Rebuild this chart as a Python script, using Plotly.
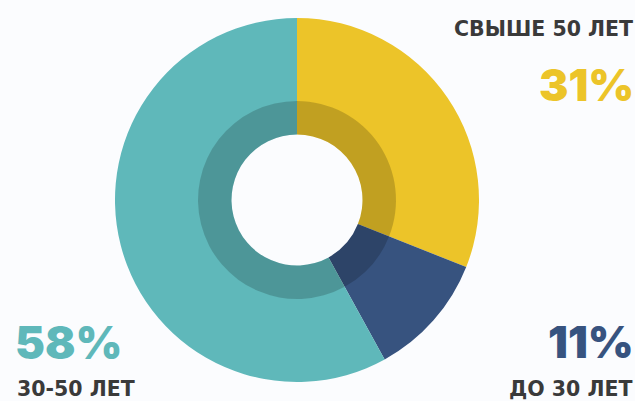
import plotly.graph_objects as go

labels = ["СВЫШЕ 50 ЛЕТ", "ДО 30 ЛЕТ", "30-50 ЛЕТ"]
values = [31, 11, 58]
pct_text = ["31%", "11%", "58%"]
colors = ["#ECC429", "#37537F", "#5FB8BA"]

W, H = 635, 401
cx, cy = 297, 200
r_out, r_mid, r_in = 182, 99, 65.5

def dom(r):
    return dict(x=[(cx - r) / W, (cx + r) / W], y=[(H - cy - r) / H, (H - cy + r) / H])

fig = go.Figure()
fig.add_trace(go.Pie(
    labels=labels, values=values, sort=False, direction="clockwise", rotation=0,
    hole=r_in / r_out, marker=dict(colors=colors, line=dict(width=0)),
    textinfo="none", hoverinfo="label+percent", domain=dom(r_out), showlegend=False,
))
fig.add_trace(go.Pie(
    labels=labels, values=values, sort=False, direction="clockwise", rotation=0,
    hole=r_in / r_mid, marker=dict(colors=["rgba(0,0,0,0.18)"] * 3, line=dict(width=0)),
    textinfo="none", hoverinfo="skip", domain=dom(r_mid), showlegend=False,
))

label_font = "DejaVu Sans"
pct_font = "Inter"
dark = "#3A3A3A"
ann = [
    dict(text=labels[0], x=635, y=29, xanchor="right", size=20.5, color=dark, w=700, f=label_font),
    dict(text=pct_text[0], x=636, y=85, xanchor="right", size=44, color=colors[0], w=900, f=pct_font),
    dict(text=pct_text[1], x=636, y=342, xanchor="right", size=44, color=colors[1], w=900, f=pct_font),
    dict(text=labels[1], x=635, y=389, xanchor="right", size=20.5, color=dark, w=700, f=label_font),
    dict(text=pct_text[2], x=13, y=342, xanchor="left", size=45, color=colors[2], w=900, f=pct_font),
    dict(text=labels[2], x=15, y=389, xanchor="left", size=20.5, color=dark, w=700, f=label_font),
]
for a in ann:
    fig.add_annotation(
        text=a["text"], x=a["x"] / W, y=(H - a["y"]) / H, xref="paper", yref="paper",
        xanchor=a["xanchor"], yanchor="middle", showarrow=False,
        font=dict(family=a["f"], size=a["size"], color=a["color"], weight=a["w"]),
    )

fig.update_layout(
    width=W, height=H, margin=dict(l=0, r=0, t=0, b=0),
    paper_bgcolor="#FBFCFE", plot_bgcolor="#FBFCFE",
)
fig.write_html(
    "out.html",
    config={"displayModeBar": False},
    post_script="document.body.style.margin='0';document.body.style.background='#FBFCFE';",
)
